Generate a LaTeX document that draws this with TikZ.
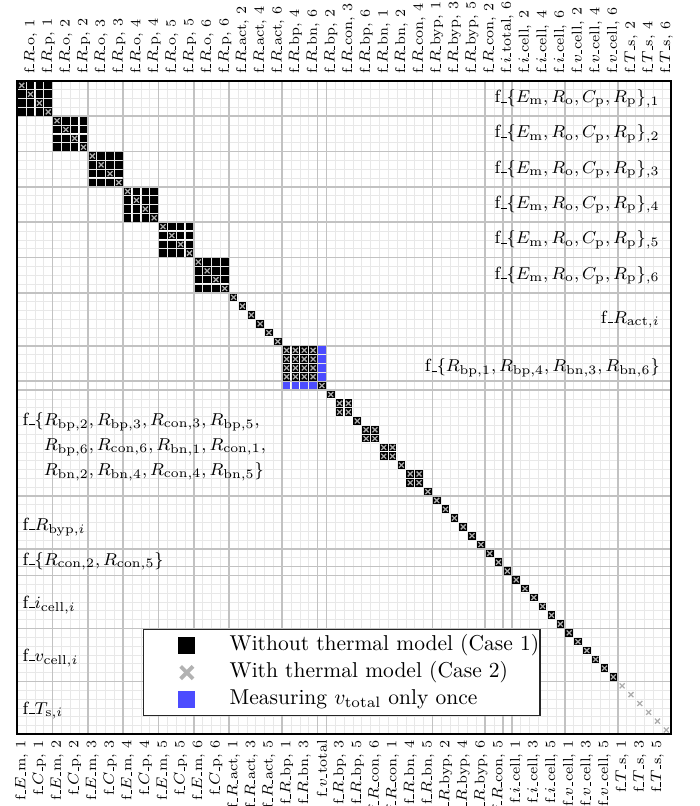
\documentclass[tikz,border=0pt]{standalone}
\usepackage{amsmath}
\tikzset{
  minorline/.style={black!9,line width=0.3pt},
  majorline/.style={black!24,line width=0.75pt},
  frameline/.style={black,line width=1pt},
  caseone/.style={fill=black},
  casetwo/.style={black!32,line width=0.6pt},
  caseblue/.style={fill=blue!70},
  toplabel/.style={rotate=90,anchor=west,inner sep=0pt,font=\fontsize{6.6}{8}\selectfont},
  botlabel/.style={rotate=90,anchor=east,inner sep=0pt,font=\fontsize{6.6}{8}\selectfont},
  rowlabel/.style={inner sep=0pt,font=\fontsize{8.2}{11.6}\selectfont},
  legendtext/.style={inner sep=0pt},
}
% short underscore, as in the classic \_
\newcommand{\usc}{\leavevmode\kern.06em\vbox{\hrule width.3em}}
% one entry of the pattern: row #1, column #2
\newcommand{\mkblack}[2]{\fill[caseone] (#2-0.93,#1-0.93) rectangle (#2-0.07,#1-0.07);}
\newcommand{\mkcross}[2]{\draw[casetwo] (#2-0.78,#1-0.78) -- (#2-0.22,#1-0.22) (#2-0.78,#1-0.22) -- (#2-0.22,#1-0.78);}
\newcommand{\mkboth}[2]{\mkblack{#1}{#2}\mkcross{#1}{#2}}
\newcommand{\mkblue}[2]{\fill[caseblue] (#2-0.93,#1-0.93) rectangle (#2-0.07,#1-0.07);}
\begin{document}
\begin{tikzpicture}[x=4.107pt,y=-4.107pt]
\useasboundingbox (-1.96,-9.17) rectangle (77.31,82.11);

% grid
\foreach \k in {1,...,73}{
  \draw[minorline] (\k,0) -- (\k,74);
  \draw[minorline] (0,\k) -- (74,\k);
}
\foreach \k in {4,8,12,16,20,24,30,34,35,47,53,55,56,62,68}{
  \draw[majorline] (\k,0) -- (\k,74);
  \draw[majorline] (0,\k) -- (74,\k);
}

% cell blocks
\foreach \b in {0,...,5}
  \foreach \i in {1,...,4}
    \foreach \j in {1,...,4}
      {\mkblack{4*\b+\i}{4*\b+\j}}
\foreach \k in {1,...,24} {\mkcross{\k}{\k}}
\foreach \k in {25,...,30} {\mkboth{\k}{\k}}

% bp/bn block and v_total
\foreach \i in {31,...,34}
  \foreach \j in {31,...,34}
    {\mkboth{\i}{\j}}
\foreach \k in {31,...,34} {\mkblue{\k}{35}\mkblue{35}{\k}}
\mkboth{35}{35}

% remaining resistances
\foreach \k in {36,39,44,47} {\mkboth{\k}{\k}}
\foreach \k in {37,40,42,45}
  \foreach \i in {0,1}
    \foreach \j in {0,1}
      {\mkboth{\k+\i}{\k+\j}}
\foreach \k in {48,...,68} {\mkboth{\k}{\k}}
\foreach \k in {69,...,74} {\mkcross{\k}{\k}}

\draw[frameline] (0,0) rectangle (74,74);

% column labels
\foreach \c/\v/\s in {2/R/{o, 1},4/R/{p, 1},6/R/{o, 2},8/R/{p, 2},10/R/{o, 3},12/R/{p, 3},
  14/R/{o, 4},16/R/{p, 4},18/R/{o, 5},20/R/{p, 5},22/R/{o, 6},24/R/{p, 6},
  26/R/{act, 2},28/R/{act, 4},30/R/{act, 6},32/R/{bp, 4},34/R/{bn, 6},36/R/{bp, 2},
  38/R/{con, 3},40/R/{bp, 6},42/R/{bn, 1},44/R/{bn, 2},46/R/{con, 4},48/R/{byp, 1},
  50/R/{byp, 3},52/R/{byp, 5},54/R/{con, 2},56/i/{total, 6},58/i/{cell, 2},60/i/{cell, 4},
  62/i/{cell, 6},64/v/{cell, 2},66/v/{cell, 4},68/v/{cell, 6},70/T/{s, 2},72/T/{s, 4},74/T/{s, 6}}
  {\node[toplabel] (top\c) at (\c-0.5,-0.75) {f\usc$\v$\usc\s};}
\foreach \c/\v/\s in {1/E/{m, 1},3/C/{p, 1},5/E/{m, 2},7/C/{p, 2},9/E/{m, 3},11/C/{p, 3},
  13/E/{m, 4},15/C/{p, 4},17/E/{m, 5},19/C/{p, 5},21/E/{m, 6},23/C/{p, 6},
  25/R/{act, 1},27/R/{act, 3},29/R/{act, 5},31/R/{bp, 1},33/R/{bn, 3},35/v/{total},
  37/R/{bp, 3},39/R/{bp, 5},41/R/{con, 6},43/R/{con, 1},45/R/{bn, 4},47/R/{bn, 5},
  49/R/{byp, 2},51/R/{byp, 4},53/R/{byp, 6},55/R/{con, 5},57/i/{cell, 1},59/i/{cell, 3},
  61/i/{cell, 5},63/v/{cell, 1},65/v/{cell, 3},67/v/{cell, 5},69/T/{s, 1},71/T/{s, 3},73/T/{s, 5}}
  {\node[botlabel] (bot\c) at (\c-0.5,74.6) {f\usc$\v$\usc\s};}

% row labels
\foreach \b in {1,...,6}
  {\node[rowlabel,anchor=east] (rowcell\b) at (72.8,4*\b-2)
    {f\usc$\{E_\mathrm{m}, R_\mathrm{o}, C_\mathrm{p}, R_\mathrm{p}\}_{,\b}$};}
\node[rowlabel,anchor=east] (rowact) at (72.8,27) {f\usc$R_{\mathrm{act},i}$};
\node[rowlabel,anchor=east] (rowbpbn) at (72.8,32.5)
  {f\usc$\{R_{\mathrm{bp},1}, R_{\mathrm{bp},4}, R_{\mathrm{bn},3}, R_{\mathrm{bn},6}\}$};
\node[rowlabel,anchor=west,align=left] (rowrest) at (0.55,41.4)
  {f\usc$\{R_{\mathrm{bp},2}, R_{\mathrm{bp},3}, R_{\mathrm{con},3}, R_{\mathrm{bp},5},$\\
   \hphantom{f\usc$\{$}$R_{\mathrm{bp},6}, R_{\mathrm{con},6}, R_{\mathrm{bn},1}, R_{\mathrm{con},1},$\\
   \hphantom{f\usc$\{$}$R_{\mathrm{bn},2}, R_{\mathrm{bn},4}, R_{\mathrm{con},4}, R_{\mathrm{bn},5}\}$};
\node[rowlabel,anchor=west] (rowbyp) at (0.55,50.5) {f\usc$R_{\mathrm{byp},i}$};
\node[rowlabel,anchor=west] (rowcon) at (0.55,54.4) {f\usc$\{R_{\mathrm{con},2}, R_{\mathrm{con},5}\}$};
\node[rowlabel,anchor=west] (rowicell) at (0.55,59.3) {f\usc$i_{\mathrm{cell},i}$};
\node[rowlabel,anchor=west] (rowvcell) at (0.55,65.3) {f\usc$v_{\mathrm{cell},i}$};
\node[rowlabel,anchor=west] (rowts) at (0.55,71.3) {f\usc$T_{\mathrm{s},i}$};

% legend
\draw[black!85,line width=0.6pt,fill=white] (14.27,62.1) rectangle (59.2,71.9);
\fill[black] (18.25,62.95) rectangle (20.15,64.85);
\draw[black!30,line width=1.8pt] (18.5,66.3) -- (19.9,67.7) (18.5,67.7) -- (19.9,66.3);
\fill[blue!70] (18.25,69.1) rectangle (20.15,71.0);
\node[legendtext,anchor=west] (legone) at (24,63.9) {Without thermal model (Case 1)};
\node[legendtext,anchor=west] (legtwo) at (24,67.0) {With thermal model (Case 2)};
\node[legendtext,anchor=west] (legblue) at (24,70.05) {Measuring $v_\mathrm{total}$ only once};
\end{tikzpicture}
\end{document}
